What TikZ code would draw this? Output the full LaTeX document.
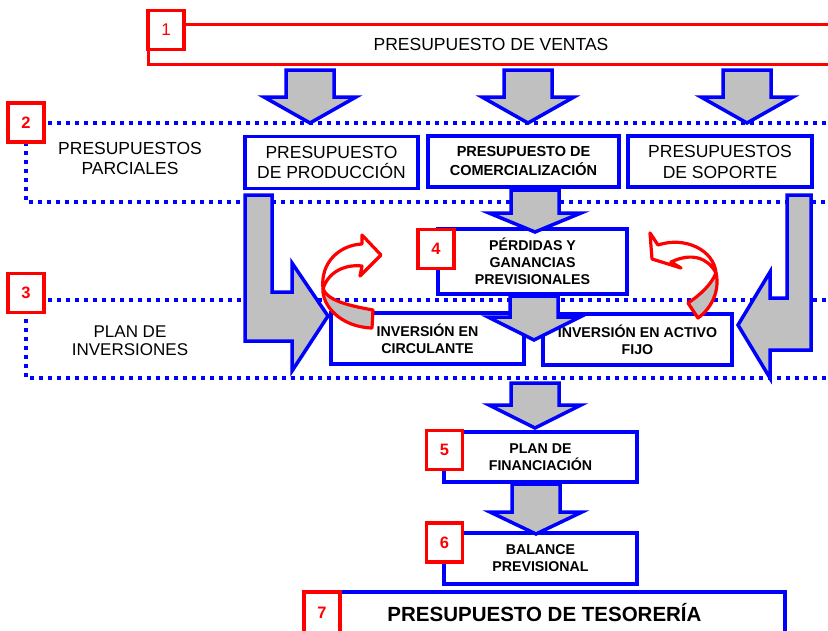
\documentclass[tikz,border=0pt]{standalone}
\usepackage{fontspec}
\setmainfont{Liberation Sans}
\definecolor{gris}{RGB}{192,192,192}
\tikzset{
    azul/.style={draw=blue, line width=3.5pt, fill=white, inner sep=0pt, align=center},
    rojo/.style={draw=red, line width=3.5pt, fill=white, inner sep=0pt, text=red, minimum width=36pt, minimum height=39pt, font=\fontsize{16.5}{16}\selectfont\bfseries},
    bloque/.style={draw=blue, line width=3.5pt, fill=gris, line join=miter},
    curva/.style={draw=red, line width=3.2pt, line join=round},
    punteado/.style={draw=blue, line width=4pt, dash pattern=on 4pt off 5pt},
    textocaja/.style={font=\fontsize{14.2}{17}\selectfont\bfseries},
    textogrande/.style={font=\fontsize{17.5}{20}\selectfont}
}
\newcommand{\flecha}[4]{%
    \draw[bloque] (#1-24,#2) -- (#1+24,#2) -- (#1+24,#3) -- (#1+46,#3) -- (#1,#4) -- (#1-46,#3) -- (#1-24,#3) -- cycle;}

\begin{document}
\begin{tikzpicture}[x=1pt, y=-1pt]
    \useasboundingbox (0,0) rectangle (828,630);
    \draw[punteado] (835,123) -- (26,123) -- (26,202) -- (835,202);
    \draw[punteado] (835,300) -- (26,300) -- (26,378) -- (835,378);
    \node[textogrande, align=center] (parciales) at (130,158) {PRESUPUESTOS\\PARCIALES};
    \node[font=\fontsize{17}{18}\selectfont, align=center] (inversiones) at (130,341) {PLAN DE\\INVERSIONES};
    \node[azul, draw=red, line width=3pt, minimum width=686pt, minimum height=40pt, textogrande] (ventas) at (491,44) {PRESUPUESTO DE VENTAS};
    \node[azul, minimum width=173pt, minimum height=52pt, textogrande] (prod) at (331.5,162.5) {PRESUPUESTO\\DE PRODUCCIÓN};
    \node[azul, minimum width=191pt, minimum height=51pt, font=\fontsize{14.5}{19}\selectfont\bfseries] (comer) at (523.5,161.5) {PRESUPUESTO DE\\COMERCIALIZACIÓN};
    \node[azul, minimum width=184pt, minimum height=51pt, font=\fontsize{17.5}{21}\selectfont] (soporte) at (720,161.5) {PRESUPUESTOS\\DE SOPORTE};
    \node[azul, minimum width=189pt, minimum height=65pt, textocaja] (pyg) at (532.5,261.5) {PÉRDIDAS Y\\GANANCIAS\\PREVISIONALES};
    \node[azul, minimum width=193pt, minimum height=51pt, textocaja] (circ) at (427.5,338.5) {INVERSIÓN EN\\CIRCULANTE};
    \node[azul, minimum width=189pt, minimum height=51pt, textocaja] (activo) at (637.5,339.5) {INVERSIÓN EN ACTIVO\\FIJO};
    \node[azul, minimum width=193pt, minimum height=50pt, textocaja] (financ) at (540.5,457) {PLAN DE\\FINANCIACIÓN};
    \node[azul, minimum width=193pt, minimum height=51pt, textocaja] (balance) at (540.5,558.5) {BALANCE\\PREVISIONAL};
    \node[azul, minimum width=481pt, minimum height=42pt, font=\fontsize{20.5}{24}\selectfont\bfseries] (tesoreria) at (544.5,613) {PRESUPUESTO DE TESORERÍA};
    \flecha{310}{70}{97}{123}
    \flecha{528}{70}{97}{123}
    \flecha{747}{70}{97}{123}
    \flecha{535}{190}{213}{232}
    \flecha{534}{296}{317}{340}
    \flecha{535}{383}{405}{428}
    \flecha{536}{484}{512}{534}
    \draw[bloque] (245,195) -- (272,195) -- (272,292) -- (292,292) -- (292,263) -- (328,316) -- (292,371) -- (292,341) -- (245,341) -- cycle;
    \draw[bloque] (811,195) -- (787,195) -- (787,298) -- (770,298) -- (770,272) -- (738,325) -- (770,378) -- (770,350) -- (811,350) -- cycle;
    \node[rojo, font=\fontsize{17}{17}\selectfont] (n1) at (166,30) {1};
    \node[rojo] (n2) at (26,122.5) {2};
    \node[rojo] (n3) at (26,293) {3};
    \node[rojo] (n4) at (436,249) {4};
    \node[rojo] (n5) at (444.5,450) {5};
    \node[rojo] (n6) at (444.5,542.5) {6};
    \node[rojo, minimum height=42pt] (n7) at (322,613) {7};
    \draw[curva, fill=gris] (373,310) .. controls (345,305) and (328,300) .. (323,289) .. controls (322,305) and (340,327) .. (372,328) -- cycle;
    \draw[curva, fill=white] (323,289) .. controls (320,262) and (340,245) .. (362,244) -- (362,235) -- (381,255) -- (360,276) -- (362,266) .. controls (345,264) and (328,272) .. (323,289) -- cycle;
    \draw[curva, fill=gris] (716,273) .. controls (720,290) and (712,308) .. (698,318) -- (688,303) .. controls (700,295) and (711,285) .. (716,273) -- cycle;
    \draw[curva, fill=white] (716,273) .. controls (714,250) and (685,236) .. (658,245) -- (650,233) -- (652,259) -- (681,268) -- (671,262) .. controls (692,252) and (708,258) .. (716,273) -- cycle;
\end{tikzpicture}
\end{document}
